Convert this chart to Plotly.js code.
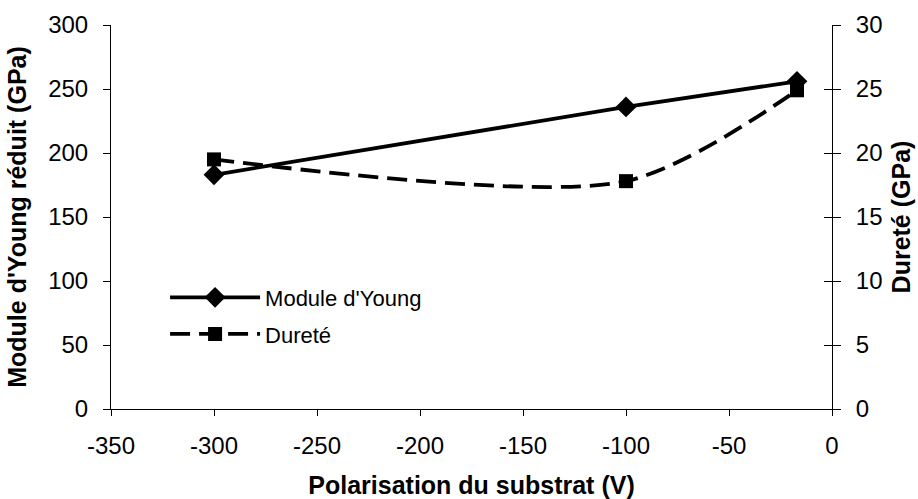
<!DOCTYPE html>
<html>
<head>
<meta charset="utf-8">
<script src="https://cdn.plot.ly/plotly-3.0.1.min.js"></script>
<style>html,body{margin:0;padding:0;background:#fff;}#chart{width:918px;height:499px;}</style>
</head>
<body>
<div id="chart"></div>
<script>
// Data
const polarisation = [-300, -100, -17];
const moduleYoung = [183, 236, 256];   // GPa (left axis)
const durete = [19.5, 17.8, 24.9];     // GPa (right axis)

const xTicks = [-350, -300, -250, -200, -150, -100, -50, 0];

const FONT = 'Liberation Sans, Arial, sans-serif';
const FS = 24;   // tick labels
const TS = 25;   // axis titles

const traces = [
  {
    x: polarisation, y: moduleYoung, name: "Module d'Young",
    type: 'scatter', mode: 'lines+markers', yaxis: 'y', legendgroup: 'a',
    line: {color: '#000', width: 3.8},
    marker: {symbol: 'diamond', size: 16, color: '#000'}
  },
  {
    x: polarisation, y: durete, name: 'Dureté',
    type: 'scatter', mode: 'lines+markers', yaxis: 'y2', legendgroup: 'b',
    line: {color: '#000', width: 3.8, dash: '20px,9px', shape: 'spline', smoothing: 0.8},
    marker: {symbol: 'square', size: 14, color: '#000'}
  }
];

const layout = {
  width: 918, height: 499,
  margin: {l: 111, r: 86, t: 25, b: 90},
  paper_bgcolor: '#fff', plot_bgcolor: '#fff',
  font: {family: FONT, size: FS, color: '#000'},
  showlegend: true,
  legend: {
    x: 0.075, y: 0.345, xanchor: 'left', yanchor: 'top',
    bgcolor: 'rgba(0,0,0,0)', font: {family: FONT, size: 22, color: '#000'},
    itemwidth: 90, tracegroupgap: 5, traceorder: 'grouped'
  },
  xaxis: {
    range: [-350, 0], tickvals: xTicks, ticktext: xTicks.map(String),
    showgrid: false, zeroline: false, showline: true, linecolor: '#000', linewidth: 1,
    ticks: 'outside', ticklen: 6, tickcolor: '#000', ticklabelstandoff: 9,
    tickfont: {family: FONT, size: FS},
    title: {text: '<b>Polarisation du substrat (V)</b>', font: {family: FONT, size: TS}, standoff: 18}
  },
  yaxis: {
    range: [0, 300], dtick: 50, showgrid: false, zeroline: false,
    showline: true, linecolor: '#000', linewidth: 1,
    ticks: 'outside', ticklen: 7, tickcolor: '#000', ticklabelstandoff: 10,
    tickfont: {family: FONT, size: FS},
    title: {text: "<b>Module d'Young réduit (GPa)</b>", font: {family: FONT, size: TS}, standoff: 14}
  },
  yaxis2: {
    range: [0, 30], dtick: 5, overlaying: 'y', side: 'right',
    showgrid: false, zeroline: false, showline: true, linecolor: '#000', linewidth: 1,
    ticks: 'outside', ticklen: 8, tickcolor: '#000', ticklabelstandoff: 10,
    tickfont: {family: FONT, size: FS},
    title: {text: '<b>Dureté (GPa)</b>', font: {family: FONT, size: TS}, standoff: 10}
  },
  yaxis3: {
    range: [0, 30], dtick: 5, overlaying: 'y', side: 'right', anchor: 'x',
    showgrid: false, zeroline: false, showline: false,
    ticks: 'inside', ticklen: 8, tickcolor: '#000', showticklabels: false
  }
};

// invisible trace so the inner tick marks of the right axis are drawn
traces.push({x: [null], y: [null], yaxis: 'y3', showlegend: false, hoverinfo: 'skip', type: 'scatter', mode: 'lines'});

Plotly.newPlot('chart', traces, layout, {displayModeBar: false, staticPlot: true});
</script>
</body>
</html>
